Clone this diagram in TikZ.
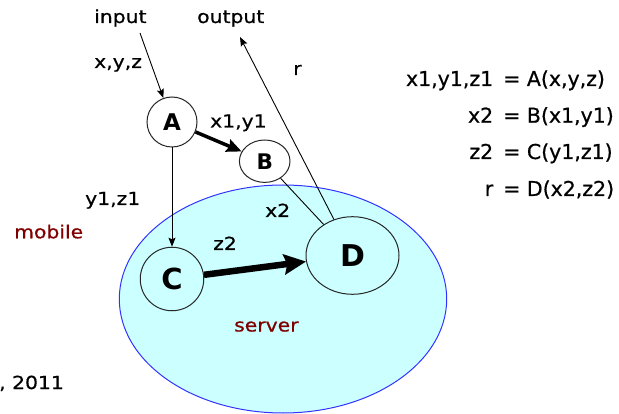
\documentclass[tikz,border=0pt]{standalone}
\usepackage{fontspec}
\setmainfont{DejaVu Sans}
\newfontfamily\lblfont[FakeStretch=1.13,FakeBold=0.6]{DejaVu Sans}
\newfontfamily\eqnfont[FakeBold=0.6]{DejaVu Sans}
\usetikzlibrary{arrows.meta,shapes.geometric}
\definecolor{servfill}{HTML}{CCFFFF}
\definecolor{servline}{HTML}{3333FF}
\definecolor{tagred}{HTML}{800000}
\newcommand{\lhsgap}{\hspace{10pt}}
\begin{document}
\begin{tikzpicture}[x=1pt,y=-1pt,
  lbl/.style={inner sep=0pt, anchor=base west, font=\lblfont\fontsize{18}{20}\selectfont},
  tag/.style={lbl, text=tagred},
  eqn/.style={inner sep=0pt, anchor=base west, font=\eqnfont\fontsize{20.5}{24}\selectfont},
  fn/.style={draw=black!85, line width=1pt, inner sep=0pt},
  thinarrow/.style={line width=0.9pt, -{Stealth[length=9pt,width=7pt,inset=1.5pt]}},
  thin/.style={line width=0.9pt}]
\useasboundingbox (0,0) rectangle (619,414);

% server region
\node[ellipse, draw=servline, line width=1pt, fill=servfill,
      minimum width=327.4, minimum height=228] (srv) at (283,299) {};

% functions
\node[fn, circle, fill=white, minimum size=50, font=\bfseries\fontsize{23}{26}\selectfont] (A) at (172,122) {A};
\node[fn, ellipse, fill=white, minimum width=50.6, minimum height=42.4, font=\bfseries\fontsize{21.5}{24}\selectfont] (B) at (264.7,161.2) {B};
\node[fn, circle, fill=servfill, minimum size=63.5, font=\bfseries\fontsize{29}{32}\selectfont] (C) at (172,279) {C};
\node[fn, ellipse, fill=servfill, minimum width=93, minimum height=77.6, font=\bfseries\fontsize{30}{34}\selectfont] (D) at (352.5,255.5) {D};

% free ends
\coordinate (inp) at (140,33);
\coordinate (outp) at (240,37);

% data flow
\draw[thinarrow] (inp) -- (A);
\draw[thinarrow] (A) -- (C);
\draw[line width=3.5pt, -{Stealth[length=15pt,width=13pt,inset=2pt]}] (A) -- (B);
\draw[thin] (B) -- (D);
\draw[thinarrow] (D) -- (outp);
\draw[line width=6.5pt, -{Stealth[length=22pt,width=20pt,inset=3pt]}] (C) -- (D);

% labels
\node[lbl] (tin) at (94,23) {input};
\node[lbl] (tout) at (197,23) {output};
\node[lbl] (lxyz) at (94,68) {x,y,z};
\node[lbl] (lr) at (293,75) {r};
\node[lbl] (lx1y1) at (210,127.5) {x1,y1};
\node[lbl] (ly1z1) at (85,205) {y1,z1};
\node[lbl] (lx2) at (265,217) {x2};
\node[lbl] (lz2) at (213,250) {z2};
\node[tag] (tsrv) at (234,331.5) {server};
\node[tag] (tmob) at (14,238.3) {mobile};
\node[lbl] (tyear) at (-1,389) {, 2011};

% equations, aligned on the equals sign
\node[eqn] (e1) at (503,86) {\llap{x1,y1,z1\lhsgap}= A(x,y,z)};
\node[eqn] (e2) at (503,122.7) {\llap{x2\lhsgap}= B(x1,y1)};
\node[eqn] (e3) at (503,159) {\llap{z2\lhsgap}= C(y1,z1)};
\node[eqn] (e4) at (503,196) {\llap{r\lhsgap}= D(x2,z2)};
\end{tikzpicture}
\end{document}
